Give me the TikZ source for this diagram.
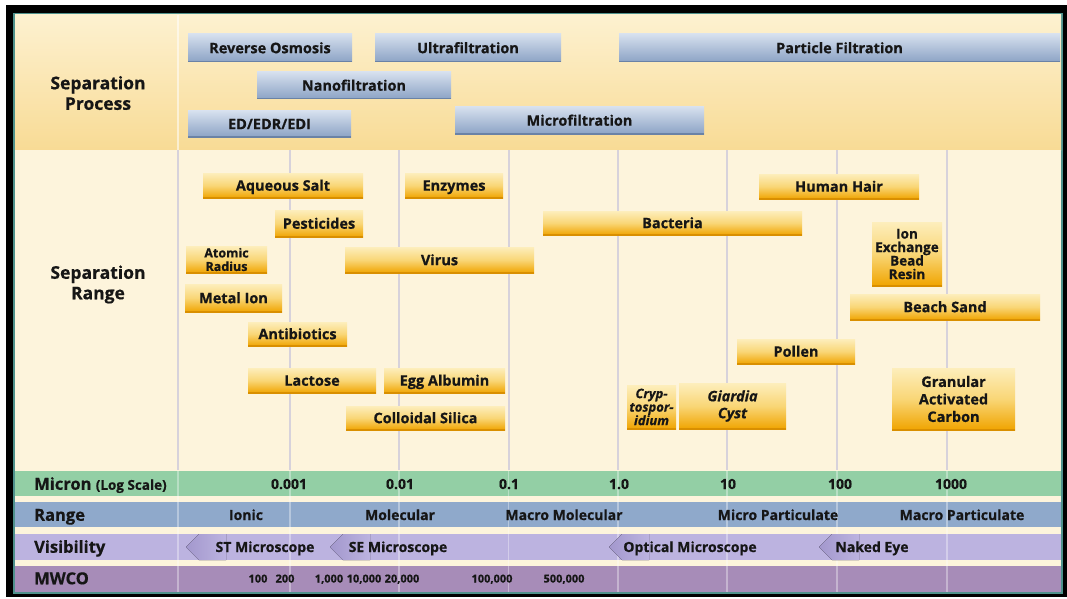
\documentclass[tikz,border=0pt]{standalone}
\usepackage{fontspec}
\setmainfont{Open Sans}[BoldFeatures={FakeBold=0.6},BoldItalicFeatures={FakeBold=0.6}]
\definecolor{txt}{HTML}{161616}
\definecolor{topA}{HTML}{FDF1D0}
\definecolor{topB}{HTML}{F8DB95}
\definecolor{cream}{HTML}{FDF4DC}
\definecolor{gridc}{HTML}{D7D2DB}
\definecolor{mgreen}{HTML}{93CFA5}
\definecolor{rblue}{HTML}{8FA9CB}
\definecolor{lav}{HTML}{BCB3E0}
\definecolor{lavd}{HTML}{A398CD}
\definecolor{purp}{HTML}{A78CB8}
\definecolor{tealb}{HTML}{4F918C}
\definecolor{oA}{HTML}{FDEEBC}
\definecolor{oM}{HTML}{F9D676}
\definecolor{oB}{HTML}{F0A400}
\definecolor{oE}{HTML}{D98F00}
\definecolor{bA}{HTML}{D6E0EE}
\definecolor{bB}{HTML}{8CA3C5}
\definecolor{bE}{HTML}{6A82A6}
\tikzset{
  bar/.style={rectangle, inner sep=0pt, align=center, text=txt,
    font=\bfseries\fontsize{14.5}{16}\selectfont},
  one/.style={text height=10.4pt, text depth=0pt},
  obar/.style={bar, top color=oA, bottom color=oB, middle color=oM,
    path picture={\draw[oE, line width=1.5pt] (path picture bounding box.south west) -- (path picture bounding box.south east);}},
  bbar/.style={bar, one, top color=bA, bottom color=bB,
    path picture={\draw[bE, line width=2pt] (path picture bounding box.south west) -- (path picture bounding box.south east);}},
  head/.style={text=txt, align=center, inner sep=0pt, font=\bfseries\fontsize{17.5}{20.5}\selectfont},
  rowlab/.style={text=txt, anchor=west, inner sep=0pt, text height=11.5pt, text depth=0pt, font=\bfseries\fontsize{16.5}{18}\selectfont},
  val/.style={text=txt, inner sep=0pt, text height=10pt, text depth=0pt, font=\bfseries\fontsize{14}{16}\selectfont},
  mw/.style={text=txt, inner sep=0pt, text height=8pt, text depth=0pt, font=\bfseries\fontsize{11}{12}\selectfont},
  gridline/.style={gridc, line width=2pt},
  faint/.style={white, opacity=0.35, line width=1.2pt}
}
\newcommand\barat[7]{%
  \pgfmathsetmacro\bw{#5-#3}\pgfmathsetmacro\bh{#6-#4}%
  \pgfmathsetmacro\bx{(#3+#5)/2}\pgfmathsetmacro\by{(#4+#6)/2}%
  \node[#1, minimum width=\bw pt, minimum height=\bh pt] (#2) at (\bx,\by) {#7};}
\newcommand\chev[2]{%
  \fill[left color=lavd, right color=lav] (#1,547) -- (#1+13,534) -- (#1+40,534) -- (#1+40,560) -- (#1+13,560) -- cycle;
  \coordinate (#2) at (#1,547);}
\begin{document}
\begin{tikzpicture}[x=1pt,y=-1pt]
\useasboundingbox (0,0) rectangle (1067,599);
\fill[white] (0,0) rectangle (1067,599);
\fill[black] (6,5) rectangle (1067,597);
\fill[tealb] (13,13) rectangle (1063,594);
% backgrounds
\fill[top color=topA, bottom color=topB] (15,15) rectangle (1061,150);
\fill[cream] (15,150) rectangle (1061,592);
\fill[mgreen] (15,471) rectangle (1061,496);
\fill[rblue] (15,502) rectangle (1061,527);
\fill[lav] (15,534) rectangle (1061,560);
\fill[purp] (15,566) rectangle (1061,592);
% grid lines
\foreach \gx in {290,399,508.5,618,727,837,947}{
  \draw[gridline] (\gx,150) -- (\gx,470);
  \draw[faint] (\gx,471) -- (\gx,592);
}
\draw[white, opacity=0.55, line width=1.5pt] (178,15) -- (178,150);
\draw[gridc, line width=1.5pt] (178,150) -- (178,470);
\draw[faint] (178,471) -- (178,592);
% visibility chevrons
\chev{186}{c1}
\chev{330}{c2}
\chev{609}{c3}
\chev{819}{c4}
% headings
\node[head] (hsp) at (98,93) {Separation\\Process};
\node[head] (hsr) at (98,284.5) {Separation\\Range};
% process bars
\barat{bbar}{ro}{188}{34}{352}{62}{Reverse Osmosis}
\barat{bbar}{uf}{375}{34}{561}{62}{Ultrafiltration}
\barat{bbar}{pf}{619}{34}{1060}{62}{Particle Filtration}
\barat{bbar}{nf}{257}{72}{451}{99}{Nanofiltration}
\barat{bbar}{ed}{188}{111}{351}{137}{ED/EDR/EDI}
\barat{bbar}{mf}{455}{107}{704}{134}{Microfiltration}
% range bars
\barat{obar,one}{aq}{203}{173}{363}{198}{Aqueous Salt}
\barat{obar,one}{en}{405}{173}{503}{198}{Enzymes}
\barat{obar,one}{hh}{759}{174}{919}{199}{Human Hair}
\barat{obar,one}{pe}{275}{210}{363}{237}{Pesticides}
\barat{obar,one}{ba}{543}{211}{802}{235}{Bacteria}
\barat{obar, font=\bfseries\fontsize{12.5}{13.5}\selectfont}{ar}{186}{246}{267}{273}{Atomic\\Radius}
\barat{obar,one}{vi}{345}{247}{534}{273}{Virus}
\barat{obar, font=\bfseries\fontsize{13.5}{13.5}\selectfont}{ie}{872}{222}{942}{286}{Ion\\Exchange\\Bead\\Resin}
\barat{obar,one}{mi}{185}{284}{282}{312}{Metal Ion}
\barat{obar,one}{bs}{850}{294}{1040}{320}{Beach Sand}
\barat{obar,one}{an}{248}{322}{347}{346}{Antibiotics}
\barat{obar,one}{po}{737}{339}{855}{364}{Pollen}
\barat{obar,one}{la}{248}{368}{376}{393}{Lactose}
\barat{obar,one}{eg}{384}{368}{505}{393}{Egg Albumin}
\barat{obar, font=\bfseries\fontsize{14.5}{17.5}\selectfont}{gac}{892}{368}{1015}{430}{Granular\\Activated\\Carbon}
\barat{obar, font=\bfseries\itshape\fontsize{13}{13.5}\selectfont}{cr}{627}{385}{676}{429}{Cryp-\\tospor-\\idium}
\barat{obar, font=\bfseries\itshape\fontsize{14.5}{17}\selectfont}{gc}{679}{383}{786}{429}{Giardia\\Cyst}
\barat{obar,one}{cs}{346}{406}{505}{430}{Colloidal Silica}
% row labels
\node[rowlab] (lmic) at (34,484) {Micron {\fontsize{13.5}{14}\selectfont(Log Scale)}};
\node[rowlab] (lran) at (34,515) {Range};
\node[rowlab] (lvis) at (34,547) {Visibility};
\node[rowlab] (lmw) at (34,578.5) {MWCO};
% micron values
\node[val] (m1) at (289,484) {0.001};
\node[val] (m2) at (400,484) {0.01};
\node[val] (m3) at (509,484) {0.1};
\node[val] (m4) at (619,484) {1.0};
\node[val] (m5) at (728,484) {10};
\node[val] (m6) at (840,484) {100};
\node[val] (m7) at (951,484) {1000};
% range values
\node[val] (r1) at (246,515) {Ionic};
\node[val] (r2) at (400,515) {Molecular};
\node[val] (r3) at (564,515) {Macro Molecular};
\node[val] (r4) at (778,515) {Micro Particulate};
\node[val] (r5) at (962,515) {Macro Particulate};
% visibility
\node[val] (v1) at (265,547) {ST Microscope};
\node[val] (v2) at (398,547) {SE Microscope};
\node[val] (v3) at (690,547) {Optical Microscope};
\node[val] (v4) at (872,547) {Naked Eye};
% MWCO
\node[mw] (w1) at (258,578.5) {100};
\node[mw] (w2) at (285,578.5) {200};
\node[mw] (w3) at (329,578.5) {1,000};
\node[mw] (w4) at (364,578.5) {10,000};
\node[mw] (w5) at (402,578.5) {20,000};
\node[mw] (w6) at (492,578.5) {100,000};
\node[mw] (w7) at (564,578.5) {500,000};
\end{tikzpicture}
\end{document}
